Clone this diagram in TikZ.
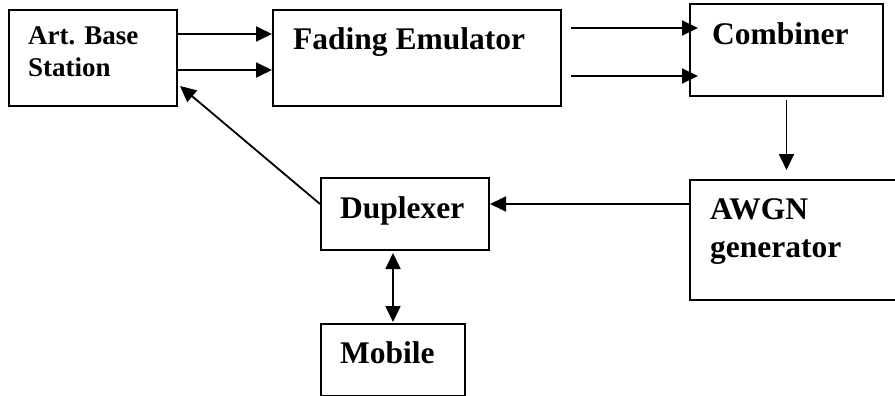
\documentclass[tikz,border=0pt]{standalone}
\usepackage{fontspec}
\setmainfont{Liberation Serif}
\usetikzlibrary{arrows.meta,calc}
\begin{document}
\begin{tikzpicture}[x=1pt,y=-1pt,
  blk/.style={draw,line width=2pt,rectangle,inner sep=0pt,anchor=north west},
  lbl/.style={anchor=base west,inner sep=0pt,font=\fontsize{31.5}{38}\selectfont\bfseries},
  lblsmall/.style={anchor=base west,inner sep=0pt,font=\fontsize{27}{32}\selectfont\bfseries},
  arr/.style={line width=1.8pt,-{Triangle[length=16pt,width=15pt]}},
  arrboth/.style={line width=1.8pt,{Triangle[length=16pt,width=15pt]}-{Triangle[length=16pt,width=15pt]}},
]
\useasboundingbox (0,0) rectangle (895,396);
\clip (0,0) rectangle (895,396);
% boxes
\node[blk,minimum width=168pt,minimum height=96pt] (abs) at (8,9) {};
\node[blk,minimum width=288pt,minimum height=96pt] (fade) at (272,9) {};
\node[blk,minimum width=193pt,minimum height=92pt] (comb) at (689,3) {};
\node[blk,minimum width=216pt,minimum height=120pt] (awgn) at (689,179) {};
\node[blk,minimum width=168pt,minimum height=72pt] (dup) at (320,177) {};
\node[blk,minimum width=144pt,minimum height=72pt] (mob) at (320,323) {};
% labels
\node[lblsmall] (abs1) at (28,45) {Art. Base};
\node[lblsmall] (abs2) at (28,77) {Station};
\node[lbl] (fadet) at (293,50) {Fading Emulator};
\node[lbl] (combt) at (712,45) {Combiner};
\node[lbl] (dupt) at (340,218) {Duplexer};
\node[lbl] (mobt) at (340,363) {Mobile};
\node[lbl] (awgn1) at (710,219) {AWGN};
\node[lbl] (awgn2) at (710,257) {generator};
% connectors
\draw[arr] ([yshift=24pt]abs.east) -- ([yshift=24pt]abs.east -| fade.west);
\draw[arr] ([yshift=-12pt]abs.east) -- ([yshift=-12pt]abs.east -| fade.west);
\draw[arr] ([xshift=9pt,yshift=30pt]fade.east) -- ([xshift=9pt,yshift=30pt]fade.east -| comb.west);
\draw[arr] ([xshift=9pt,yshift=-18pt]fade.east) -- ([xshift=9pt,yshift=-18pt]fade.east -| comb.west);
\draw[arr] ([yshift=-3pt]comb.south) -- ([yshift=9pt]comb.south |- awgn.north);
\draw[arr] ([yshift=10pt]dup.east -| awgn.west) -- ([yshift=10pt]dup.east);
\draw[arr] ([yshift=10pt]dup.west) -- ([xshift=2pt,yshift=-28pt]abs.east);
\draw[arrboth] ([yshift=-2pt]dup.south -| mob.north) -- ([yshift=1pt]mob.north);
\end{tikzpicture}
\end{document}
